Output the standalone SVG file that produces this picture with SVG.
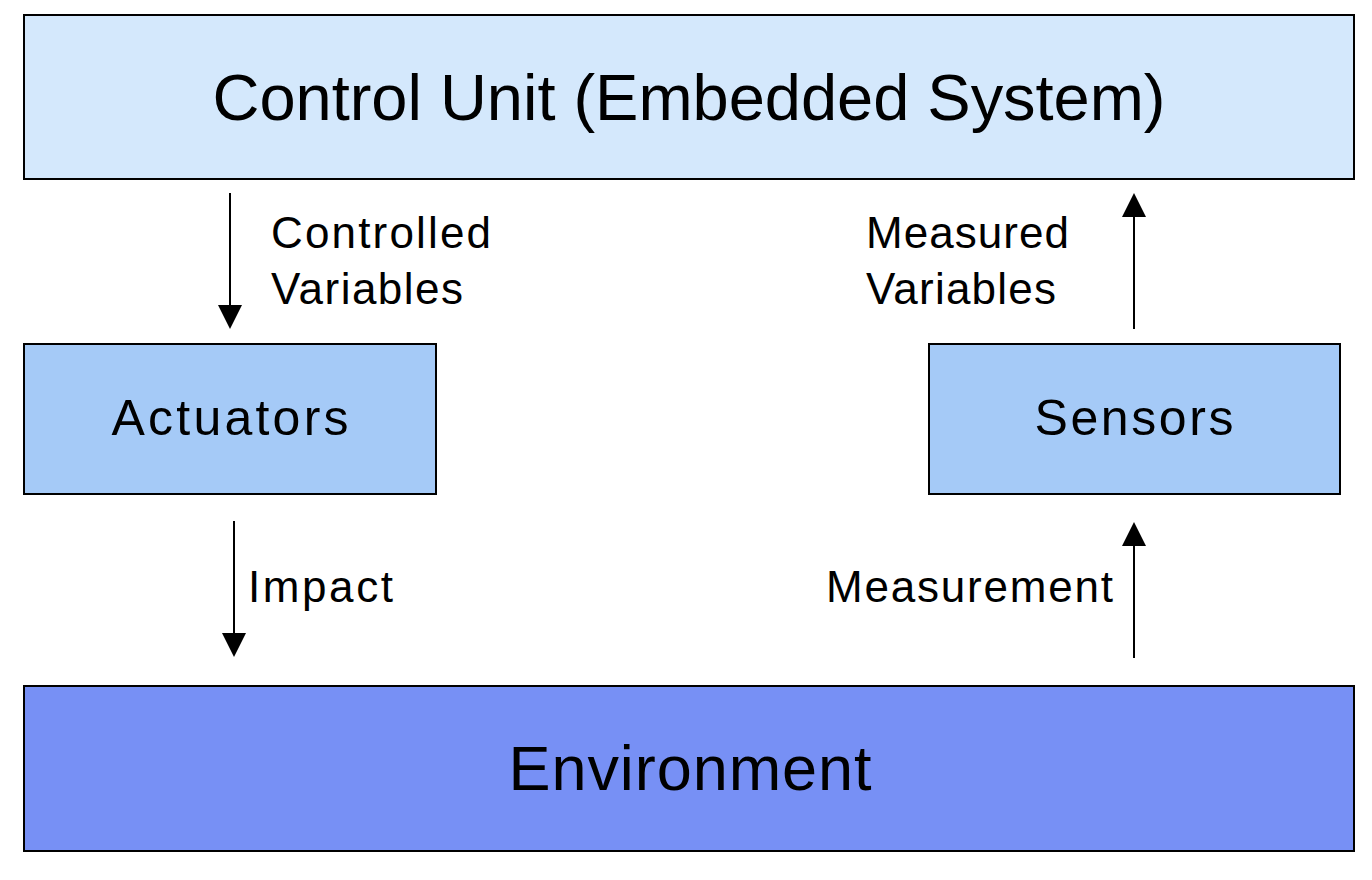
<svg xmlns="http://www.w3.org/2000/svg" width="1372" height="880" viewBox="0 0 1372 880">
  <style>
    .box { stroke: #000; stroke-width: 2; }
    .t { font-family: "Liberation Sans", Arial, sans-serif; fill: #000; }
    .lbl { font-size: 44px; }
    .conn { stroke: #000; stroke-width: 2; fill: none; marker-end: url(#arrow); }
  </style>
  <defs>
    <marker id="arrow" markerUnits="userSpaceOnUse" markerWidth="24" markerHeight="24" refX="1" refY="12" orient="auto" viewBox="0 0 24 24">
      <path d="M0,0 L24,12 L0,24 Z" fill="#000"/>
    </marker>
  </defs>
  <rect width="1372" height="880" fill="#fff"/>

  <g id="control-unit">
    <rect class="box" x="24" y="15" width="1330" height="164" fill="#D4E8FC"/>
    <text class="t" x="689" y="120" font-size="65" text-anchor="middle" textLength="953" lengthAdjust="spacing">Control Unit (Embedded System)</text>
  </g>

  <g id="actuators">
    <rect class="box" x="24" y="344" width="412" height="150" fill="#A5CAF7"/>
    <text class="t" x="230" y="435" font-size="50" text-anchor="middle" textLength="237" lengthAdjust="spacing">Actuators</text>
  </g>

  <g id="sensors">
    <rect class="box" x="929" y="344" width="411" height="150" fill="#A5CAF7"/>
    <text class="t" x="1134" y="435" font-size="50" text-anchor="middle" textLength="199" lengthAdjust="spacing">Sensors</text>
  </g>

  <g id="environment">
    <rect class="box" x="24" y="686" width="1330" height="165" fill="#7790F5"/>
    <text class="t" x="690" y="790" font-size="63" text-anchor="middle" textLength="363" lengthAdjust="spacing">Environment</text>
  </g>

  <g id="connectors">
    <line class="conn" x1="230" y1="193" x2="230" y2="306"/>
    <line class="conn" x1="234" y1="521" x2="234" y2="634"/>
    <line class="conn" x1="1134" y1="329" x2="1134" y2="216"/>
    <line class="conn" x1="1134" y1="658" x2="1134" y2="545"/>
    <text class="t lbl" x="271" y="248" textLength="220" lengthAdjust="spacing">Controlled</text>
    <text class="t lbl" x="271" y="304" textLength="192" lengthAdjust="spacing">Variables</text>
    <text class="t lbl" x="248" y="602" textLength="145" lengthAdjust="spacing">Impact</text>
    <text class="t lbl" x="866" y="248" textLength="203" lengthAdjust="spacing">Measured</text>
    <text class="t lbl" x="866" y="304" textLength="190" lengthAdjust="spacing">Variables</text>
    <text class="t lbl" x="826" y="602" textLength="287" lengthAdjust="spacing">Measurement</text>
  </g>
</svg>
